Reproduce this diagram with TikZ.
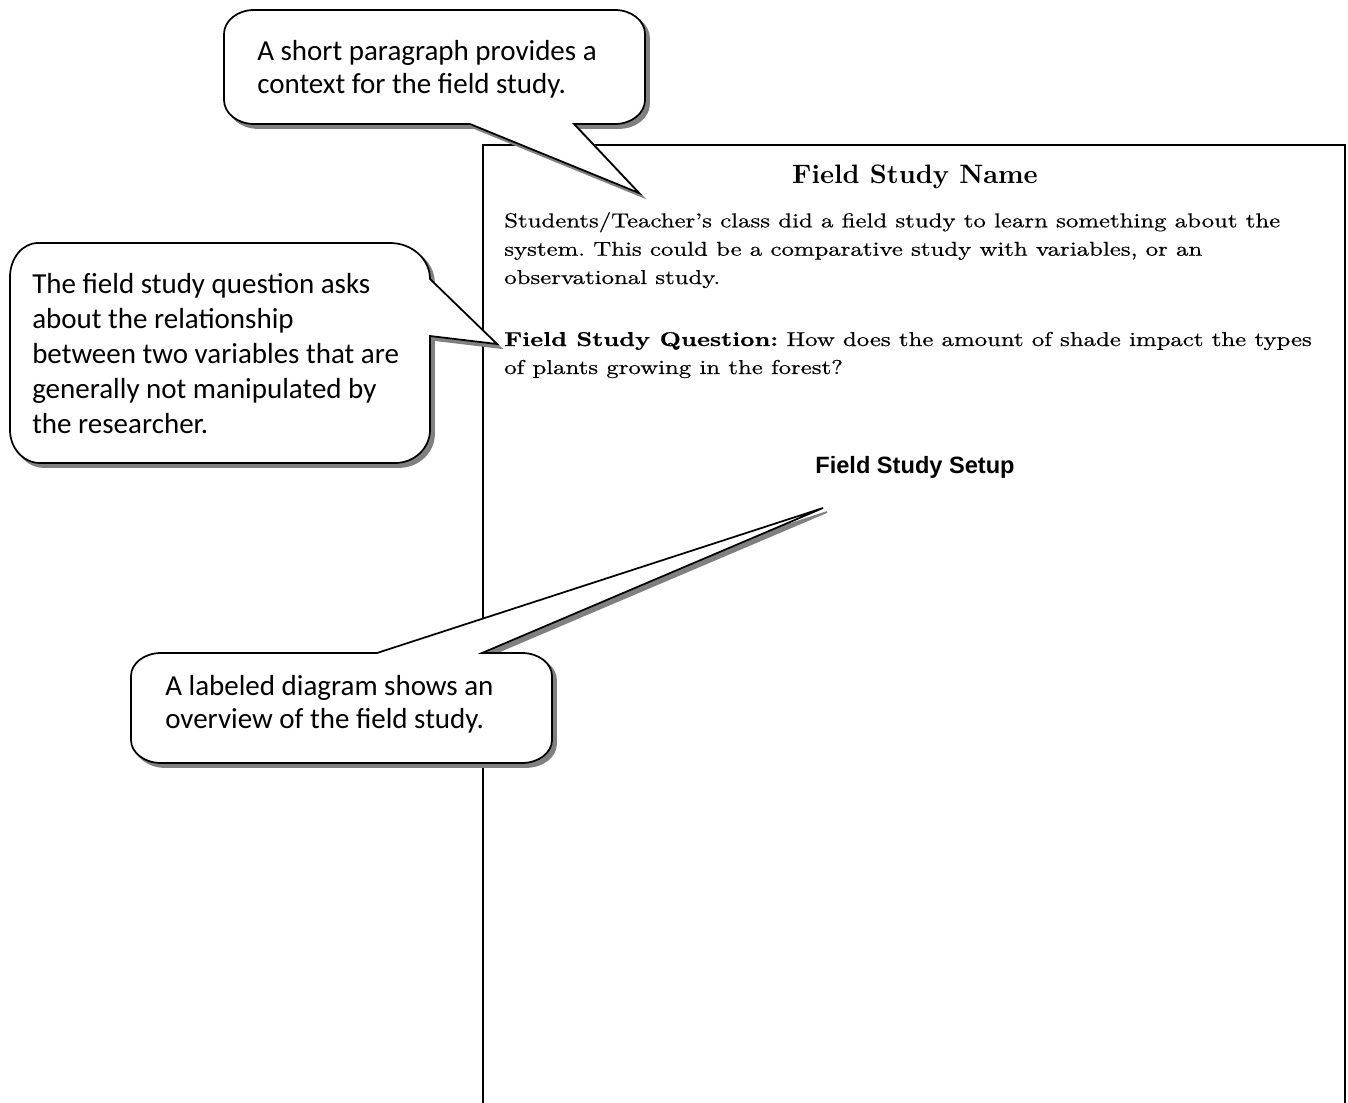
\documentclass[tikz,border=0pt]{standalone}
\usepackage{fontspec}
\frenchspacing
\newfontfamily\calloutfont{Carlito}
\newfontfamily\setupfont{Liberation Sans}
\newfontfamily\bodyfont{lmroman10}[Extension=.otf, UprightFont=*-regular, BoldFont=*-bold, FakeStretch=1.24, FakeBold=0.6]
\newfontfamily\titlefont{lmroman10}[Extension=.otf, UprightFont=*-regular, BoldFont=*-bold]
\def\pathA{(470,124) -- (639,193) -- (574,124) -- (615,124) .. controls (631.6,124) and (645,113.2) .. (645,100) -- (645,34) .. controls (645,20.8) and (631.6,10) .. (615,10) -- (254,10) .. controls (237.4,10) and (224,20.8) .. (224,34) -- (224,100) .. controls (224,113.2) and (237.4,124) .. (254,124) -- cycle}
\def\pathB{(430,279) -- (497,344) -- (430,336) -- (430,430) .. controls (430,448.2) and (414.3,463) .. (395,463) -- (40,463) .. controls (23.4,463) and (10,448.2) .. (10,430) -- (10,277) .. controls (10,258.2) and (22.5,243) .. (38,243) -- (390,243) .. controls (412,243) and (430,259.1) .. (430,279) -- cycle}
\def\pathC{(377,653) -- (823,508) -- (482,653) -- (522,653) .. controls (538.6,653) and (552,663.3) .. (552,676) -- (552,740) .. controls (552,752.7) and (538.6,763) .. (522,763) -- (161,763) .. controls (144.4,763) and (131,752.7) .. (131,740) -- (131,676) .. controls (131,663.3) and (144.4,653) .. (161,653) -- cycle}
\begin{document}
\begin{tikzpicture}[x=0.75pt,y=-0.75pt,
  callout/.style={draw=black, line width=1.3pt, fill=white, line join=miter},
  calloutshadow/.style={fill=black!50, draw=black!50, line width=1.3pt, shift={(4,4)}},
  pageframe/.style={draw=black, line width=1.5pt},
  ctext/.style={anchor=base west, inner sep=0pt, font=\calloutfont\fontsize{21.75pt}{24pt}\selectfont},
  btext/.style={anchor=base west, inner sep=0pt, font=\bodyfont\fontsize{15pt}{18pt}\selectfont},
  titletext/.style={anchor=base, inner sep=0pt, font=\titlefont\bfseries\fontsize{20pt}{24pt}\selectfont},
  setuptext/.style={anchor=base, inner sep=0pt, font=\setupfont\bfseries\fontsize{17.7pt}{21pt}\selectfont}
]
\useasboundingbox (0,0) rectangle (1348,1102);
\clip (0,0) rectangle (1348,1102);
\fill[white] (0,0) rectangle (1348,1102);
% page frame
\draw[pageframe] (483,1115) -- (483,145) -- (1345,145) -- (1345,1115);
% page text
\node[titletext] (title) at (915,183) {Field Study Name};
\node[btext] (p1) at (504,227.3) {Students/Teacher’s class did a field study to learn something about the};
\node[btext] (p2) at (504,255.7) {system. This could be a comparative study with variables, or an};
\node[btext] (p3) at (504,284) {observational study.};
\node[btext] (q1) at (504,346) {\textbf{Field Study Question:} How does the amount of shade impact the types};
\node[btext] (q2) at (504,374) {of plants growing in the forest?};
\node[setuptext] (setup) at (915,473) {Field Study Setup};
% callouts
\path[calloutshadow] \pathA;
\path[callout] \pathA;
\path[calloutshadow] \pathB;
\path[callout] \pathB;
\path[calloutshadow] \pathC;
\path[callout] \pathC;
\node[ctext] (c1a) at (257,60.7) {A short paragraph provides a};
\node[ctext] (c1b) at (257,94) {context for the field study.};
\node[ctext] (c2a) at (32,293) {The field study question asks};
\node[ctext] (c2b) at (32,328) {about the relationship};
\node[ctext] (c2c) at (32,363) {between two variables that are};
\node[ctext] (c2d) at (32,398) {generally not manipulated by};
\node[ctext] (c2e) at (32,433) {the researcher.};
\node[ctext] (c3a) at (165,695) {A labeled diagram shows an};
\node[ctext] (c3b) at (165,728) {overview of the field study.};
\end{tikzpicture}
\end{document}
